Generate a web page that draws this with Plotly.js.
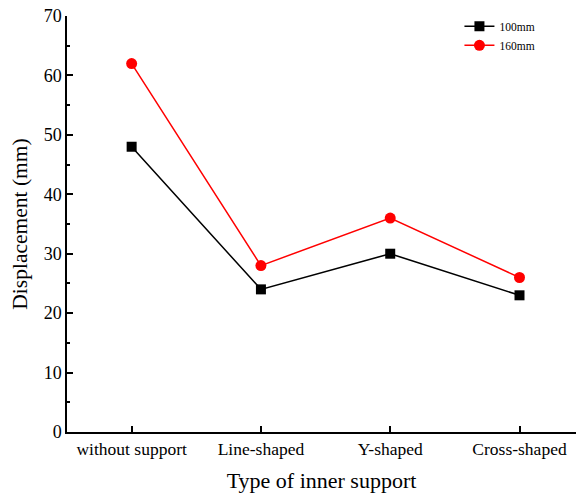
<!DOCTYPE html>
<html><head><meta charset="utf-8">
<script src="https://cdn.plot.ly/plotly-3.0.1.min.js"></script>
<style>body{margin:0;padding:0;background:#fff}#c{width:576px;height:495px}</style>
</head><body><div id="c"></div>
<script>
const categories = ["without support", "Line-shaped", "Y-shaped", "Cross-shaped"];
const s100 = [48, 24, 30, 23];
const s160 = [62, 28, 36, 26];
const yTicks = [0, 10, 20, 30, 40, 50, 60, 70];

const font = "Liberation Serif, Times New Roman, serif";
const data = [
  {x: [0,1,2,3], y: s100, name: "100mm", mode: "lines+markers", type: "scatter",
   line: {color: "#000000", width: 1.5}, marker: {symbol: "square", size: 10, color: "#000000"}},
  {x: [0,1,2,3], y: s160, name: "160mm", mode: "lines+markers", type: "scatter",
   line: {color: "#ff0000", width: 1.5}, marker: {symbol: "circle", size: 11, color: "#ff0000"}}
];
const layout = {
  width: 576, height: 495,
  margin: {l: 67, r: 0, t: 16, b: 63},
  paper_bgcolor: "#fff", plot_bgcolor: "#fff",
  font: {family: font, color: "#000"},
  showlegend: true,
  legend: {x: 0.771, y: 1.01, xanchor: "left", yanchor: "top", font: {size: 11.5, family: font},
           bgcolor: "rgba(0,0,0,0)", tracegroupgap: 0, itemwidth: 30},
  xaxis: {
    range: [-0.5, 3.437], tickmode: "array", tickvals: [0,1,2,3], ticktext: categories,
    showline: true, linecolor: "#000", linewidth: 1.5, mirror: false,
    ticks: "inside", ticklen: 6, tickwidth: 1.5, tickcolor: "#000",
    showgrid: false, zeroline: false,
    tickfont: {size: 17.5, family: font},
    title: {text: "Type of inner support", font: {size: 22, family: font}, standoff: 15}
  },
  yaxis: {
    range: [0, 70], tickmode: "array", tickvals: yTicks,
    showline: true, linecolor: "#000", linewidth: 1.5,
    ticks: "inside", ticklen: 6, tickwidth: 1.5, tickcolor: "#000",
    minor: {dtick: 5, ticks: "inside", ticklen: 3, tickwidth: 1.5, tickcolor: "#000"},
    showgrid: false, zeroline: false,
    tickfont: {size: 18, family: font},
    title: {text: "Displacement (mm)", font: {size: 21.5, family: font}, standoff: 10}
  }
};
Plotly.newPlot("c", data, layout, {displayModeBar: false});
</script></body></html>
